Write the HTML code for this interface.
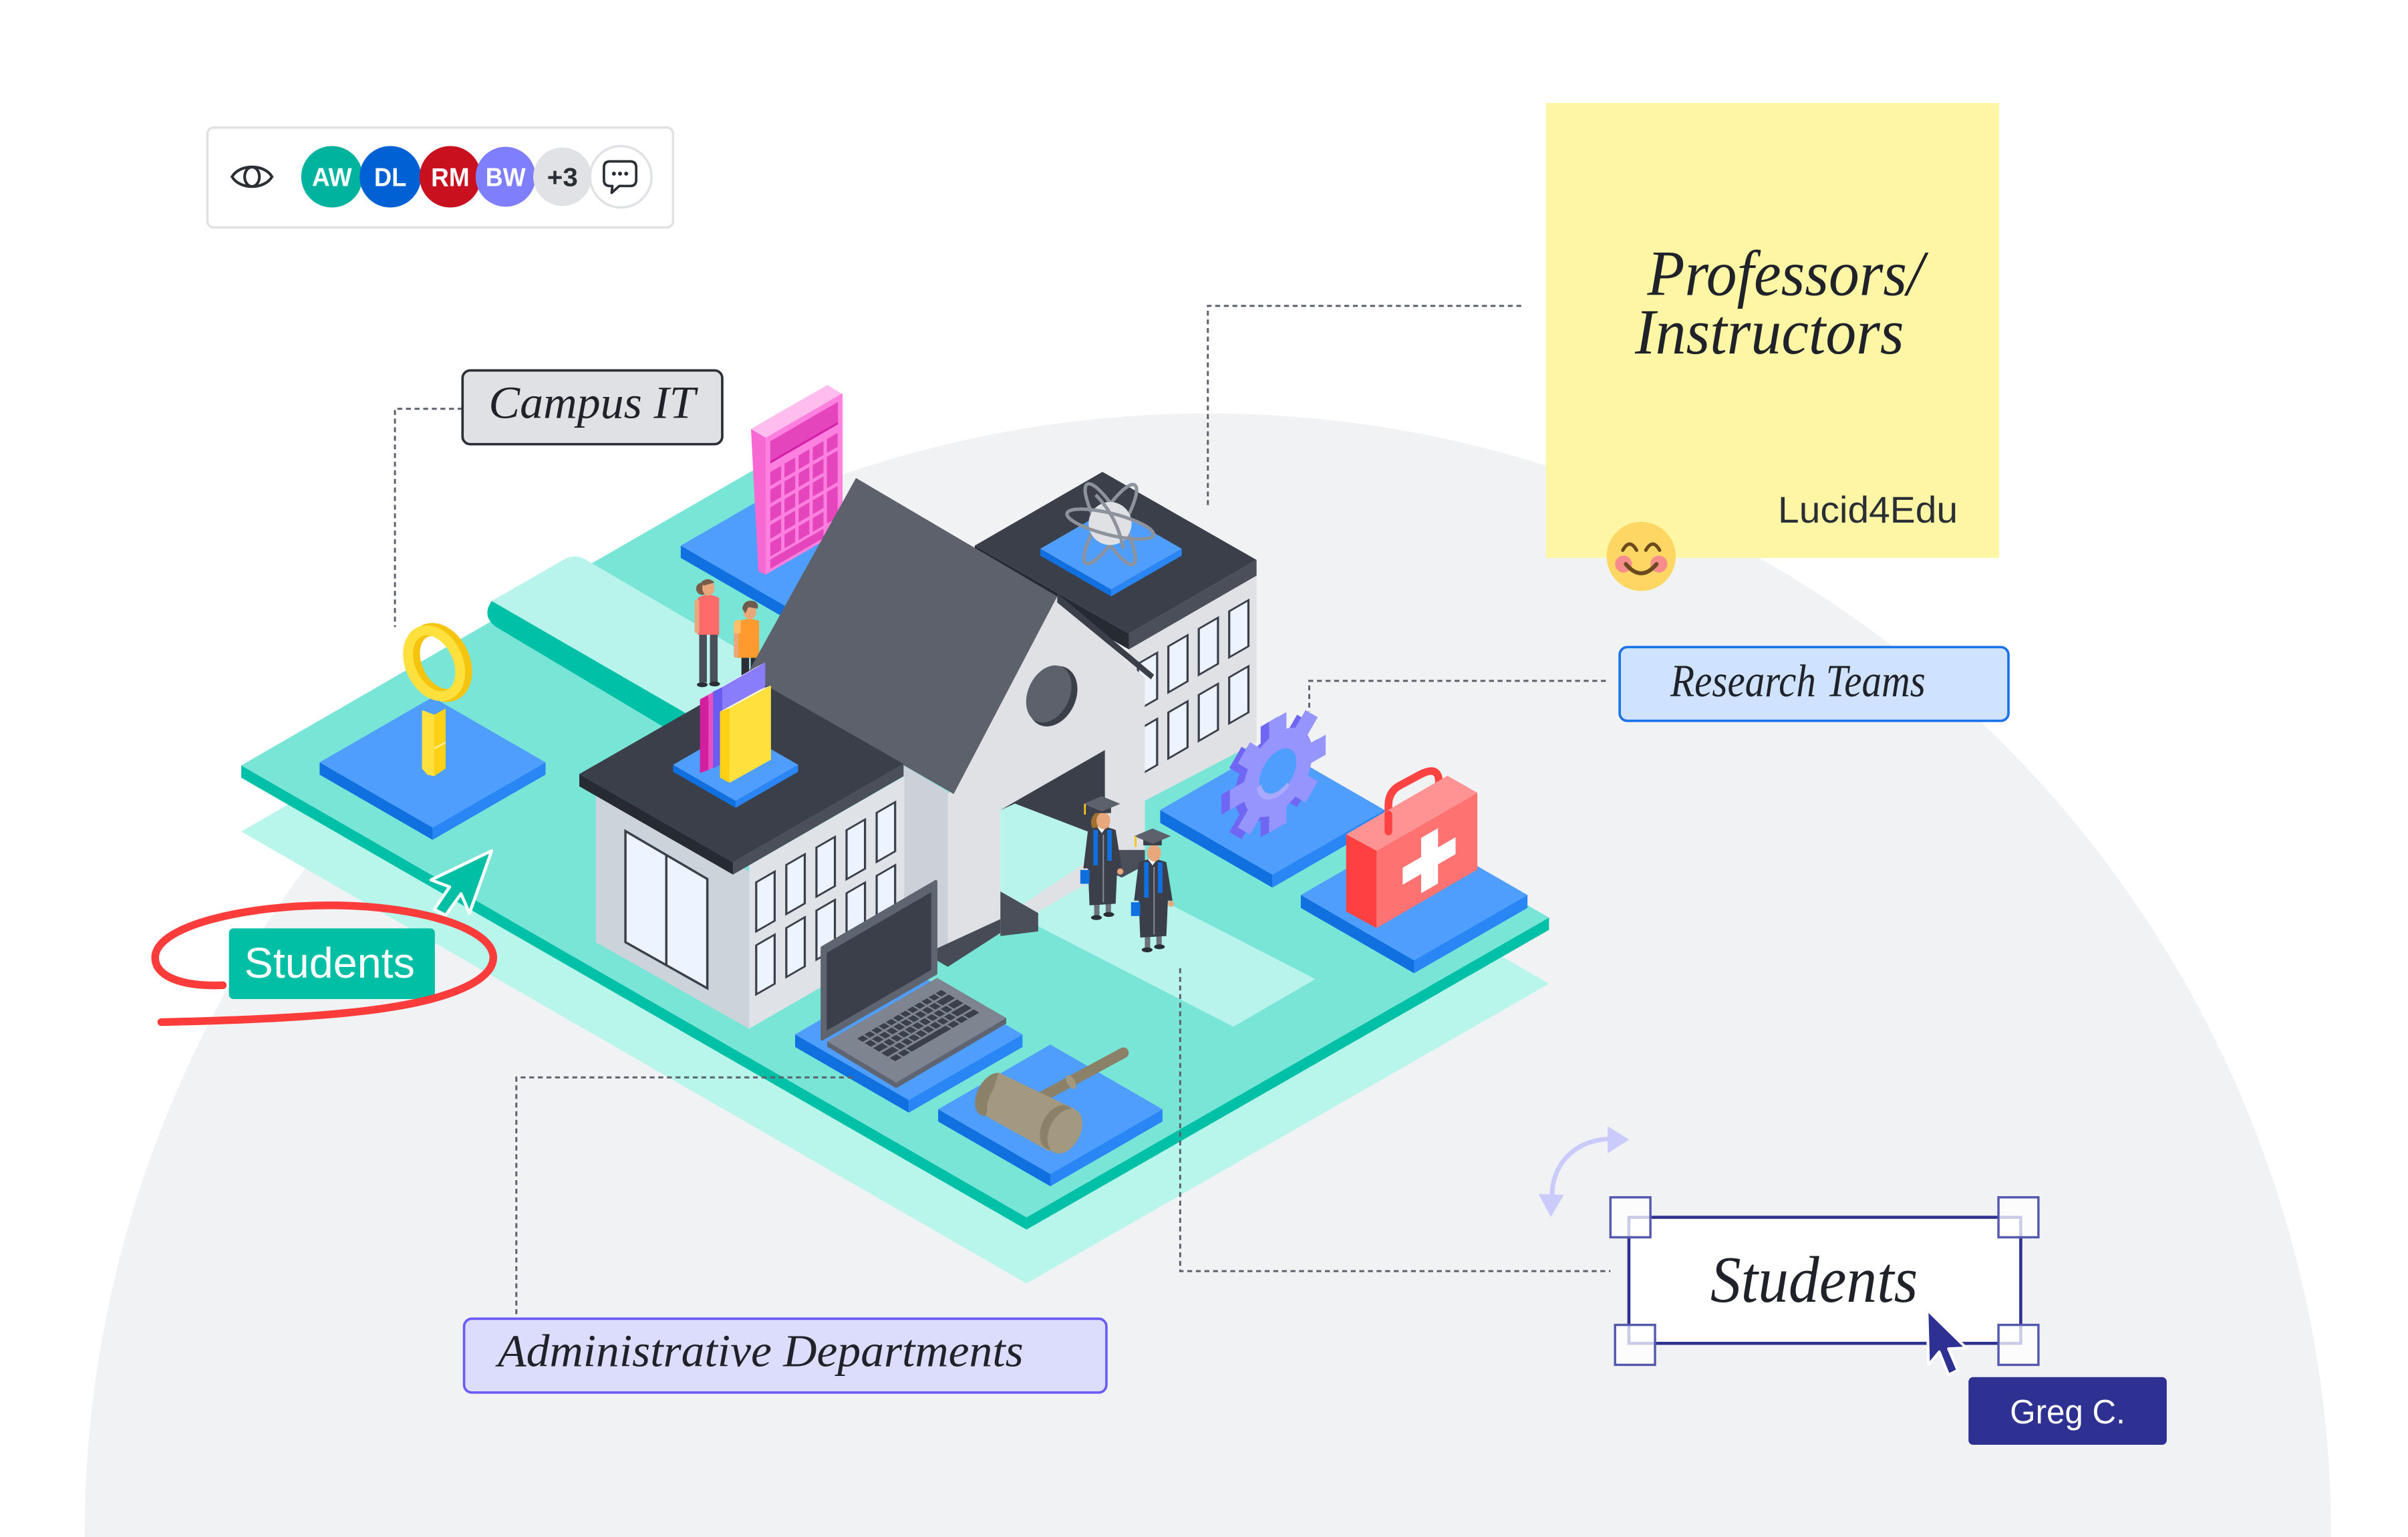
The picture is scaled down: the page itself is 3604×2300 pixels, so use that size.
<!DOCTYPE html>
<html>
<head>
<meta charset="utf-8">
<style>
html,body{margin:0;padding:0;background:#ffffff;overflow:hidden;width:3604px;height:2300px;}
svg{display:block;overflow:hidden;}
</style>
</head>
<body>
<svg xmlns="http://www.w3.org/2000/svg" width="3604" height="2300" viewBox="0 0 1567 1000" preserveAspectRatio="none" style="overflow:hidden">
<rect width="1567" height="1000" fill="#ffffff"/>
<path d="M55,1000 A731,731 0 0 1 1517,1000 Z" fill="#f1f2f4"/>

<!-- platform -->
<polygon points="497,345 1008,640 668,835 157,541" fill="#b8f5eb"/>
<polygon points="157,498 668,792 668,800 157,506" fill="#00c1a7"/>
<polygon points="668,792 1008,597 1008,605 668,800" fill="#00c1a7"/>
<polygon points="497,302 1008,597 668,792 157,498" fill="#78e5d7"/>

<!-- raised mint strip -->
<path d="M320,391 L460,472 L452,485 L323,408 Q313,401 320,391 Z" fill="#00c1a7"/>
<path d="M320,391 L367,364 Q374,360 381,364 L523.7,447.6 L470,477.6 Z" fill="#b8f4eb"/>

<!-- mint path to door -->
<polygon points="651,520 745,470 745,580 856,637 802.6,668 651,590" fill="#b8f4eb"/>

<!-- calculator pad -->
<polygon points="443,355 513,395.4 513,403.4 443,363" fill="#1170e0"/>
<polygon points="513,395.4 583,355 583,363 513,403.4" fill="#2a86f5"/>
<polygon points="443,355 513,314.6 583,355 513,395.4" fill="#4f9efd"/>
<!-- calculator -->
<polygon points="488.7,279 498.3,284.8 498.3,374 493.5,371.7" fill="#f868d3"/>
<polygon points="488.7,279 538.4,250.5 548.1,256.3 498.3,284.8" fill="#ffbdee"/>
<g transform="matrix(1,-0.58,0,1,498.3,284.8)">
<rect x="0" y="0" width="50" height="89" fill="#ff80df"/>
<rect x="3" y="4" width="44" height="14" fill="#e445bd"/>
<rect x="3" y="17" width="44" height="1.5" fill="#d41ea8"/>
<g fill="#e445bd">
<rect x="3" y="24" width="7" height="9"/><rect x="12.2" y="24" width="7" height="9"/><rect x="21.4" y="24" width="7" height="9"/><rect x="30.6" y="24" width="7" height="9"/><rect x="39.8" y="24" width="7" height="9"/>
<rect x="3" y="35.5" width="7" height="9"/><rect x="12.2" y="35.5" width="7" height="9"/><rect x="21.4" y="35.5" width="7" height="9"/><rect x="30.6" y="35.5" width="7" height="9"/><rect x="39.8" y="35.5" width="7" height="20.5"/>
<rect x="3" y="47" width="7" height="9"/><rect x="12.2" y="47" width="7" height="9"/><rect x="21.4" y="47" width="7" height="9"/><rect x="30.6" y="47" width="7" height="9"/>
<rect x="3" y="58.5" width="7" height="9"/><rect x="12.2" y="58.5" width="7" height="9"/><rect x="21.4" y="58.5" width="7" height="9"/><rect x="30.6" y="58.5" width="7" height="9"/><rect x="39.8" y="58.5" width="7" height="20.5"/>
<rect x="3" y="70" width="7" height="9"/><rect x="12.2" y="70" width="7" height="9"/><rect x="21.4" y="70" width="7" height="9"/><rect x="30.6" y="70" width="7" height="9"/>
<rect x="3" y="81" width="34.6" height="6"/>
</g>
</g>

<!-- people -->
<g>
<rect x="455" y="412" width="5" height="32" fill="#4a4f5a"/>
<rect x="462" y="411" width="5" height="33" fill="#4a4f5a"/>
<ellipse cx="457" cy="445.5" rx="3.5" ry="1.6" fill="#2a2e35"/>
<ellipse cx="465" cy="445" rx="3.5" ry="1.6" fill="#2a2e35"/>
<path d="M454,389 Q461,385 468,389 L468,413 L454,413 Z" fill="#ff6b6b"/>
<rect x="452" y="390" width="3" height="22" rx="1.5" fill="#e8a87c"/>
<circle cx="457" cy="383" r="4" fill="#7a5a48"/>
<ellipse cx="461" cy="382.5" rx="4" ry="5" fill="#e8a87c"/>
<path d="M456.5,378.5 Q461,375 465,379 L458,381 Z" fill="#7a5a48"/>
</g>
<g>
<rect x="482.5" y="427" width="5" height="13" fill="#2a2e35"/>
<rect x="488.5" y="426" width="5" height="13" fill="#2a2e35"/>
<path d="M479,405 Q487,401 494,404 L494,428 L480,428 Z" fill="#ff9a2e"/>
<rect x="477.5" y="406" width="3" height="22" rx="1.5" fill="#e8a87c"/>
<path d="M477.5,405 Q480,402 482,404 L482,412 L477.5,412 Z" fill="#ffc06a"/>
<ellipse cx="488" cy="398" rx="4.2" ry="5" fill="#e8a87c"/>
<path d="M483,396 Q484,390 490,391 Q494,392 493,396 L487,395 L485,399 Z" fill="#6e5a4e"/>
</g>

<!-- right building -->
<polygon points="734.6,422.5 817.7,374.5 817.7,483 745,521 734.6,527" fill="#dfe1e5"/>
<g fill="#eef4ff" stroke="#3a3f4a" stroke-width="1.4">
<rect x="0" y="0" width="12.5" height="30" transform="matrix(1,-0.577,0,1,740.5,431.9)"/>
<rect x="0" y="0" width="12.5" height="30" transform="matrix(1,-0.577,0,1,760.3,420.5)"/>
<rect x="0" y="0" width="12.5" height="30" transform="matrix(1,-0.577,0,1,780.1,409.1)"/>
<rect x="0" y="0" width="12.5" height="30" transform="matrix(1,-0.577,0,1,799.9,397.7)"/>
<rect x="0" y="0" width="12.5" height="30" transform="matrix(1,-0.577,0,1,740.5,474.9)"/>
<rect x="0" y="0" width="12.5" height="30" transform="matrix(1,-0.577,0,1,760.3,463.5)"/>
<rect x="0" y="0" width="12.5" height="30" transform="matrix(1,-0.577,0,1,780.1,452.1)"/>
<rect x="0" y="0" width="12.5" height="30" transform="matrix(1,-0.577,0,1,799.9,440.7)"/>
</g>
<polygon points="634.3,355 734.6,412.3 734.6,422.5 634.3,365" fill="#262a33"/>
<polygon points="734.6,412.3 817.7,364.3 817.7,374.5 734.6,422.5" fill="#4a4f5a"/>
<polygon points="634.3,355 717.4,307 817.7,364.3 734.6,412.3" fill="#3a3f4a"/>
<!-- atom pad -->
<polygon points="677,357 723,383.5 723,388 677,361.5" fill="#1170e0"/>
<polygon points="723,383.5 769,357 769,361.5 723,388" fill="#2a86f5"/>
<polygon points="677,357 723,330.5 769,357 723,383.5" fill="#4f9efd"/>
<!-- atom -->
<g fill="none" stroke="#8d939c" stroke-width="2.2">
<ellipse cx="722.5" cy="341" rx="30" ry="7.5" transform="rotate(60 722.5 341)"/>
<ellipse cx="722.5" cy="341" rx="30" ry="7.5" transform="rotate(-58 722.5 341)"/>
</g>
<circle cx="722.4" cy="340.6" r="14" fill="#dfe1e5"/>
<ellipse cx="722.5" cy="341" rx="29" ry="7" transform="rotate(14 722.5 341)" fill="none" stroke="#8d939c" stroke-width="2.2"/>
<path d="M713,322 Q727,336 731,357" fill="none" stroke="#8d939c" stroke-width="2.2"/>

<!-- house -->
<polygon points="588,497.9 616.8,515 616.8,620 588,604" fill="#ccd1d9"/>
<polygon points="616.8,516.6 688,388 745,441 745,553 616.8,627" fill="#dfe1e5"/>
<polygon points="609.8,617 651,598 651,607 616.8,629 609.8,625" fill="#474b55"/>
<polygon points="651,527 719,488 719,553 651,598" fill="#b8f4eb"/>
<polygon points="651,527 719,488 719,545.3 660.5,522.8" fill="#3a3f4a"/>
<polygon points="651,580 675.6,594 675.6,606 651,609" fill="#4a4f5a"/>
<polygon points="719,553 745,553 745,563 730,571 719,566" fill="#4a4f5a"/>
<ellipse cx="685" cy="453" rx="15" ry="20.5" transform="rotate(25 685 453)" fill="#3a3f4a"/>
<ellipse cx="682.5" cy="451.5" rx="13.5" ry="19.5" transform="rotate(25 682.5 451.5)" fill="#5c616c"/>
<polygon points="557,311 688,388 620.6,516.6 486,439" fill="#5c616c"/>
<polygon points="688,386 751,439 749,442 688,392" fill="#3a3f4a"/>

<!-- left building -->
<polygon points="387.7,510 487.5,567 487.5,669.3 387.7,613" fill="#cdd3db"/>
<polygon points="487.5,563 588.4,505 588.4,611 487.5,669.3" fill="#dfe2e7"/>
<polygon points="407,540.7 460.3,571.9 460.3,643 407,613" fill="#eef4ff" stroke="#3a3f4a" stroke-width="1.5"/>
<line x1="433.6" y1="556.3" x2="433.6" y2="628" stroke="#3a3f4a" stroke-width="1.5"/>
<g fill="#eef4ff" stroke="#3a3f4a" stroke-width="1.4">
<rect x="0" y="0" width="12" height="32" transform="matrix(1,-0.577,0,1,492.1,574)"/>
<rect x="0" y="0" width="12" height="32" transform="matrix(1,-0.577,0,1,511.7,562.7)"/>
<rect x="0" y="0" width="12" height="32" transform="matrix(1,-0.577,0,1,531.3,551.4)"/>
<rect x="0" y="0" width="12" height="32" transform="matrix(1,-0.577,0,1,550.9,540.1)"/>
<rect x="0" y="0" width="12" height="32" transform="matrix(1,-0.577,0,1,570.5,528.8)"/>
<rect x="0" y="0" width="12" height="32" transform="matrix(1,-0.577,0,1,492.1,615)"/>
<rect x="0" y="0" width="12" height="32" transform="matrix(1,-0.577,0,1,511.7,603.7)"/>
<rect x="0" y="0" width="12" height="32" transform="matrix(1,-0.577,0,1,531.3,592.4)"/>
<rect x="0" y="0" width="12" height="32" transform="matrix(1,-0.577,0,1,550.9,581.1)"/>
<rect x="0" y="0" width="12" height="32" transform="matrix(1,-0.577,0,1,570.5,569.8)"/>
</g>
<polygon points="377,503.6 477,561 477,569 377,511.6" fill="#262a33"/>
<polygon points="477,561 588,497 588,505 477,569" fill="#4a4f5a"/>
<polygon points="377,503.6 488,440 588,497 477,561" fill="#3a3f4a"/>
<!-- books pad -->
<polygon points="438,497.6 478.7,521.1 478.7,525.6 438,502.1" fill="#1170e0"/>
<polygon points="478.7,521.1 519.4,497.6 519.4,502.1 478.7,525.6" fill="#2a86f5"/>
<polygon points="438,497.6 478.7,474.1 519.4,497.6 478.7,521.1" fill="#4f9efd"/>
<!-- books -->
<polygon points="455.5,455 461,452 461,501 455.5,503" fill="#d41ea0"/>
<polygon points="461,452 489,436 489,486 461,501" fill="#e84fc0"/>
<polygon points="455.5,455 483,439.5 489,436 461,452" fill="#ffc2ec"/>
<polygon points="464,450 470,447 470,497 464,500" fill="#6a5cf0"/>
<polygon points="470,447 498,431 498,483 470,497" fill="#8a7dfb"/>
<polygon points="464,450 492,434 498,431 470,447" fill="#ecebff"/>
<polygon points="468.5,463 474.8,460.7 474.8,509.3 468.5,506" fill="#fcd116"/>
<polygon points="474.8,460.7 501.7,446 501.7,494.3 474.8,509.3" fill="#ffe03d"/>
<polygon points="468.5,463 495,448.5 501.7,446 474.8,460.7" fill="#fffbd0"/>

<!-- key pad -->
<polygon points="208,496 281.5,538.4 281.5,546.4 208,504" fill="#1170e0"/>
<polygon points="281.5,538.4 355,496 355,504 281.5,546.4" fill="#2a86f5"/>
<polygon points="208,496 281.5,453.6 355,496 281.5,538.4" fill="#4f9efd"/>
<!-- key -->
<polygon points="274.6,462 282.6,465 282.6,505 278,504 274.6,500" fill="#ffe03d"/>
<polygon points="282.6,465 290,461 290,500 282.6,505" fill="#fcd116"/>
<line x1="282.6" y1="487" x2="290" y2="483" stroke="#fff3a0" stroke-width="1"/>
<ellipse cx="286" cy="431" rx="15.5" ry="22.5" transform="rotate(-25 286 431)" fill="none" stroke="#f5c40f" stroke-width="8.5"/>
<ellipse cx="282.5" cy="431.5" rx="15.5" ry="22.5" transform="rotate(-25 282.5 431.5)" fill="none" stroke="#ffe03d" stroke-width="6.5"/>

<!-- gear pad -->
<polygon points="755,527 828,569.1 828,577.5 755,535.4" fill="#1170e0"/>
<polygon points="828,569.1 901,527 901,535.4 828,577.5" fill="#2a86f5"/>
<polygon points="755,527 828,484.9 901,527 828,569.1" fill="#4f9efd"/>
<!-- gear -->
<g transform="matrix(0.866,-0.5,0,1,826,505.5)" fill="#6f66f4">
<circle cx="0" cy="0" r="26"/>
<rect x="-6.5" y="-36" width="13" height="14"/>
<rect x="-6.5" y="-36" width="13" height="14" transform="rotate(45)"/>
<rect x="-6.5" y="-36" width="13" height="14" transform="rotate(90)"/>
<rect x="-6.5" y="-36" width="13" height="14" transform="rotate(135)"/>
<rect x="-6.5" y="-36" width="13" height="14" transform="rotate(180)"/>
<rect x="-6.5" y="-36" width="13" height="14" transform="rotate(225)"/>
<rect x="-6.5" y="-36" width="13" height="14" transform="rotate(270)"/>
<rect x="-6.5" y="-36" width="13" height="14" transform="rotate(315)"/>
</g>
<g transform="matrix(0.866,-0.5,0,1,831.5,502.5)">
<g fill="#9595fd">
<circle cx="0" cy="0" r="26"/>
<rect x="-6.5" y="-36" width="13" height="14"/>
<rect x="-6.5" y="-36" width="13" height="14" transform="rotate(45)"/>
<rect x="-6.5" y="-36" width="13" height="14" transform="rotate(90)"/>
<rect x="-6.5" y="-36" width="13" height="14" transform="rotate(135)"/>
<rect x="-6.5" y="-36" width="13" height="14" transform="rotate(180)"/>
<rect x="-6.5" y="-36" width="13" height="14" transform="rotate(225)"/>
<rect x="-6.5" y="-36" width="13" height="14" transform="rotate(270)"/>
<rect x="-6.5" y="-36" width="13" height="14" transform="rotate(315)"/>
</g>
<circle cx="0" cy="0" r="14" fill="#4f9efd"/>
<path d="M-14,2 A14,14 0 0 0 8,11.5" fill="none" stroke="#a9a9ff" stroke-width="3.5"/>
</g>

<!-- medkit pad -->
<polygon points="846.5,582.3 920.2,624.8 920.2,633.2 846.5,590.7" fill="#1170e0"/>
<polygon points="920.2,624.8 994,582.3 994,590.7 920.2,633.2" fill="#2a86f5"/>
<polygon points="846.5,582.3 920.2,539.8 994,582.3 920.2,624.8" fill="#4f9efd"/>
<!-- medkit -->
<path d="M903.5,540 L903.5,524 Q903.5,515 911,511 L925,503.5 Q936.4,498 936.4,509 L936.4,521" fill="none" stroke="#ff4242" stroke-width="5" stroke-linecap="round"/>
<polygon points="876,542.8 895.8,553.5 895.8,603.8 876,593" fill="#ff4040"/>
<polygon points="895.8,553.5 961.4,515.8 961.4,565.7 895.8,603.8" fill="#ff7272"/>
<polygon points="876,542.8 941.9,504.7 961.4,515.8 895.8,553.5" fill="#ff9393"/>
<path d="M903.5,541 L903.5,530" stroke="#ff4242" stroke-width="5" stroke-linecap="round"/>
<g transform="matrix(1,-0.577,0,1,895.8,553.5)" fill="#ffffff">
<rect x="29" y="8.4" width="11" height="36"/>
<rect x="17" y="20.9" width="34.4" height="11"/>
</g>

<!-- graduates -->
<g transform="translate(717,523)">
<rect x="-5" y="64" width="3.5" height="9" fill="#6b7079"/>
<rect x="2.5" y="62" width="3.5" height="9" fill="#6b7079"/>
<ellipse cx="-3.5" cy="74" rx="3.5" ry="1.6" fill="#2a2e35"/>
<ellipse cx="4.5" cy="72" rx="3.5" ry="1.6" fill="#2a2e35"/>
<ellipse cx="-1" cy="12" rx="6" ry="7" fill="#a0702f"/>
<path d="M-9,17 Q0,13 9,17 L13,42 L10,42 L9,65 L-8,66 L-9,42 L-12,42 Z" fill="#3a3f4a"/>
<line x1="-4" y1="17" x2="-4" y2="40" stroke="#1170e0" stroke-width="3"/>
<line x1="5" y1="17" x2="5" y2="37" stroke="#1170e0" stroke-width="3"/>
<line x1="1" y1="20" x2="1" y2="64" stroke="#8a909a" stroke-width="0.8"/>
<polygon points="-3,15 3,15 0,19" fill="#ffffff"/>
<ellipse cx="1" cy="11" rx="4.5" ry="5.5" fill="#e8a87c"/>
<rect x="-6" y="1" width="12" height="5" fill="#3a3f4a"/>
<polygon points="-12,0 0,-5 12,0 0,5" fill="#5c616c"/>
<line x1="-11" y1="0" x2="-11" y2="7" stroke="#f5c518" stroke-width="1.2"/>
<rect x="-14" y="43" width="6" height="9" fill="#1170e0"/>
<circle cx="12" cy="44" r="2" fill="#e8a87c"/>
</g>
<g transform="translate(750,544)">
<rect x="-5" y="64" width="3.5" height="9" fill="#6b7079"/>
<rect x="2.5" y="62" width="3.5" height="9" fill="#6b7079"/>
<ellipse cx="-3.5" cy="74" rx="3.5" ry="1.6" fill="#2a2e35"/>
<ellipse cx="4.5" cy="72" rx="3.5" ry="1.6" fill="#2a2e35"/>
<path d="M-9,17 Q0,13 9,17 L13,42 L10,42 L9,65 L-8,66 L-9,42 L-12,42 Z" fill="#3a3f4a"/>
<line x1="-4" y1="17" x2="-4" y2="40" stroke="#1170e0" stroke-width="3"/>
<line x1="5" y1="17" x2="5" y2="37" stroke="#1170e0" stroke-width="3"/>
<line x1="1" y1="20" x2="1" y2="64" stroke="#8a909a" stroke-width="0.8"/>
<polygon points="-3,15 3,15 0,19" fill="#ffffff"/>
<ellipse cx="1" cy="11" rx="4.5" ry="5.5" fill="#e8a87c"/>
<rect x="-6" y="1" width="12" height="5" fill="#3a3f4a"/>
<polygon points="-12,0 0,-5 12,0 0,5" fill="#5c616c"/>
<line x1="-11" y1="0" x2="-11" y2="7" stroke="#f5c518" stroke-width="1.2"/>
<rect x="-14" y="43" width="6" height="9" fill="#1170e0"/>
<circle cx="12" cy="44" r="2" fill="#e8a87c"/>
</g>

<!-- laptop pad -->
<polygon points="517.4,673 591.4,715.7 591.4,723.9 517.4,681.2" fill="#1170e0"/>
<polygon points="591.4,715.7 665.4,673 665.4,681.2 591.4,723.9" fill="#2a86f5"/>
<polygon points="517.4,673 591.4,630.3 665.4,673 591.4,715.7" fill="#4f9efd"/>
<!-- laptop -->
<polygon points="538.3,677.5 583.2,704.3 583.2,708 538.3,681" fill="#5f6570"/>
<polygon points="583.2,704.3 654.8,662.3 654.8,666 583.2,708" fill="#5f6570"/>
<polygon points="538.3,677.5 609.8,636.2 654.8,662.3 583.2,704.3" fill="#7e8591"/>
<g transform="matrix(0.715,-0.413,0.449,0.268,538.3,677.5)" fill="#3a3f4a">
<rect x="16" y="18" width="5" height="8"/><rect x="22.5" y="18" width="5" height="8"/><rect x="29" y="18" width="5" height="8"/><rect x="35.5" y="18" width="5" height="8"/><rect x="42" y="18" width="5" height="8"/><rect x="48.5" y="18" width="5" height="8"/><rect x="55" y="18" width="5" height="8"/><rect x="61.5" y="18" width="5" height="8"/><rect x="68" y="18" width="5" height="8"/><rect x="74.5" y="18" width="5" height="8"/><rect x="81" y="18" width="5" height="8"/><rect x="87.5" y="18" width="5" height="8"/>
<rect x="16" y="29" width="5" height="9"/><rect x="22.5" y="29" width="5" height="9"/><rect x="29" y="29" width="5" height="9"/><rect x="35.5" y="29" width="5" height="9"/><rect x="42" y="29" width="5" height="9"/><rect x="48.5" y="29" width="5" height="9"/><rect x="55" y="29" width="5" height="9"/><rect x="61.5" y="29" width="5" height="9"/><rect x="68" y="29" width="5" height="9"/><rect x="74.5" y="29" width="5" height="9"/><rect x="81" y="29" width="11.5" height="9"/>
<rect x="16" y="41" width="8" height="9"/><rect x="25.5" y="41" width="5" height="9"/><rect x="32" y="41" width="5" height="9"/><rect x="38.5" y="41" width="5" height="9"/><rect x="45" y="41" width="5" height="9"/><rect x="51.5" y="41" width="5" height="9"/><rect x="58" y="41" width="5" height="9"/><rect x="64.5" y="41" width="5" height="9"/><rect x="71" y="41" width="5" height="9"/><rect x="77.5" y="41" width="5" height="9"/><rect x="84" y="41" width="8.5" height="9"/>
<rect x="16" y="53" width="10" height="9"/><rect x="27.5" y="53" width="5" height="9"/><rect x="34" y="53" width="5" height="9"/><rect x="40.5" y="53" width="5" height="9"/><rect x="47" y="53" width="5" height="9"/><rect x="53.5" y="53" width="5" height="9"/><rect x="60" y="53" width="5" height="9"/><rect x="66.5" y="53" width="5" height="9"/><rect x="73" y="53" width="5" height="9"/><rect x="79.5" y="53" width="13" height="9"/>
<rect x="16" y="65" width="6" height="8"/><rect x="23.5" y="65" width="6" height="8"/><rect x="31" y="65" width="36" height="8"/><rect x="68.5" y="65" width="6" height="8"/><rect x="76" y="65" width="6" height="8"/><rect x="83.5" y="65" width="9" height="8"/>
</g>
<polygon points="535,616.6 609,573.5 609,633.3 535,676" fill="#5f6570" stroke="#5f6570" stroke-width="2" stroke-linejoin="round"/>
<polygon points="538,620 606,580.5 606,631 538,670.5" fill="#3a3f4a"/>

<!-- gavel pad -->
<polygon points="610.5,721.7 683.5,763.8 683.5,771.8 610.5,729.7" fill="#1170e0"/>
<polygon points="683.5,763.8 756.5,721.7 756.5,729.7 683.5,771.8" fill="#2a86f5"/>
<polygon points="610.5,721.7 683.5,679.6 756.5,721.7 683.5,763.8" fill="#4f9efd"/>
<!-- gavel -->
<line x1="670" y1="718" x2="731" y2="685" stroke="#8b8068" stroke-width="7" stroke-linecap="round"/>
<ellipse cx="697" cy="704" rx="2.5" ry="5" transform="rotate(-30 697 704)" fill="#a39980"/>
<ellipse cx="645" cy="712" rx="9" ry="15" transform="rotate(27 645 712)" fill="#8b8068"/>
<polygon points="649.8,697.8 699.7,721.7 683,749.2 641.4,726" fill="#a39980"/>
<ellipse cx="652" cy="715" rx="8" ry="14.5" transform="rotate(27 652 715)" fill="#a39980"/>
<ellipse cx="688" cy="733.5" rx="10" ry="15.5" transform="rotate(27 688 733.5)" fill="#8b8068"/>
<ellipse cx="693" cy="736" rx="10" ry="15.5" transform="rotate(27 693 736)" fill="#a39980"/>

<!-- connectors -->
<g fill="none" stroke="#5c616c" stroke-width="1.3" stroke-dasharray="3.2 2.4">
<path d="M301,266 H257 V408"/>
<path d="M990,199 H786 V330"/>
<path d="M1045,443 H852 V463"/>
<path d="M336,855 V701 H555"/>
<path d="M768,630 V827 H1048"/>
</g>

<!-- toolbar -->
<rect x="135" y="83" width="303" height="65" rx="4" fill="#ffffff" stroke="#dfe1e5" stroke-width="1.5"/>
<path d="M151,115 C156,106.5 172,106.5 177,115 C172,123.5 156,123.5 151,115 Z" fill="none" stroke="#2a2e35" stroke-width="1.8"/>
<ellipse cx="164" cy="115" rx="4.8" ry="6.3" fill="none" stroke="#2a2e35" stroke-width="1.8"/>
<circle cx="216" cy="115" r="20" fill="#00b39e"/>
<circle cx="254" cy="115" r="20" fill="#0061d5"/>
<circle cx="293" cy="115" r="20" fill="#c8101e"/>
<circle cx="329" cy="115" r="19.5" fill="#7f7ffe"/>
<circle cx="366" cy="115" r="19" fill="#e0e2e6"/>
<circle cx="404" cy="115" r="20" fill="#ffffff" stroke="#dfe1e5" stroke-width="1.5"/>
<g font-family="'Liberation Sans',sans-serif" font-weight="bold" font-size="17" text-anchor="middle">
<text x="216" y="121" fill="#ffffff" textLength="26" lengthAdjust="spacingAndGlyphs">AW</text>
<text x="254" y="121" fill="#ffffff" textLength="21" lengthAdjust="spacingAndGlyphs">DL</text>
<text x="293" y="121" fill="#ffffff" textLength="25" lengthAdjust="spacingAndGlyphs">RM</text>
<text x="329" y="121" fill="#ffffff" textLength="26" lengthAdjust="spacingAndGlyphs">BW</text>
<text x="366" y="121" fill="#2a2e35" textLength="20" lengthAdjust="spacingAndGlyphs">+3</text>
</g>
<path d="M397,105 H410 Q414,105 414,109 V117 Q414,121 410,121 H403 L398,125.5 L398.5,121 H397 Q393,121 393,117 V109 Q393,105 397,105 Z" fill="#ffffff" stroke="#2a2e35" stroke-width="1.6" stroke-linejoin="round"/>
<circle cx="399.5" cy="113" r="1.3" fill="#2a2e35"/>
<circle cx="403.5" cy="113" r="1.3" fill="#2a2e35"/>
<circle cx="407.5" cy="113" r="1.3" fill="#2a2e35"/>

<!-- Campus IT -->
<rect x="301" y="241" width="169" height="48" rx="5" fill="#dfe1e5" stroke="#2a2e35" stroke-width="1.6"/>
<text x="318" y="272" font-family="'Liberation Serif',serif" font-style="italic" font-size="30" fill="#1f2329" textLength="134.5" lengthAdjust="spacingAndGlyphs">Campus IT</text>

<!-- sticky -->
<rect x="1006" y="67" width="295" height="296" fill="#fff6a5"/>
<text x="1072" y="192" font-family="'Liberation Serif',serif" font-style="italic" font-size="42" fill="#1f2329" textLength="180" lengthAdjust="spacingAndGlyphs">Professors/</text>
<text x="1064" y="230" font-family="'Liberation Serif',serif" font-style="italic" font-size="42" fill="#1f2329" textLength="175" lengthAdjust="spacingAndGlyphs">Instructors</text>
<text x="1157" y="340" font-family="'Liberation Sans',sans-serif" font-size="24" fill="#2a2e35" textLength="117" lengthAdjust="spacingAndGlyphs">Lucid4Edu</text>
<circle cx="1068" cy="362" r="22.5" fill="#fdd663"/>
<circle cx="1056.5" cy="367" r="5.5" fill="#f78c8c"/>
<circle cx="1079.5" cy="367" r="5.5" fill="#f78c8c"/>
<path d="M1056,358 Q1060.5,350 1065,358 M1071,358 Q1075.5,350 1080,358" fill="none" stroke="#6b4a1e" stroke-width="2.2" stroke-linecap="round"/>
<path d="M1058,367 Q1068,379 1078,367" fill="none" stroke="#6b4a1e" stroke-width="2.6" stroke-linecap="round"/>

<!-- Research Teams -->
<rect x="1054" y="421" width="253" height="48" rx="5" fill="#cfe2ff" stroke="#1a73e8" stroke-width="1.6"/>
<text x="1087" y="453" font-family="'Liberation Serif',serif" font-style="italic" font-size="30" fill="#1f2329" textLength="166" lengthAdjust="spacingAndGlyphs">Research Teams</text>

<!-- Administrative Departments -->
<rect x="302" y="858" width="418" height="48" rx="5" fill="#dcdcfd" stroke="#6b5cf6" stroke-width="1.6"/>
<text x="324" y="889" font-family="'Liberation Serif',serif" font-style="italic" font-size="30" fill="#1f2329" textLength="342" lengthAdjust="spacingAndGlyphs">Administrative Departments</text>

<!-- Students green label + scribble -->
<rect x="149" y="604" width="134" height="46" rx="3" fill="#00bfa5"/>
<text x="159" y="636" font-family="'Liberation Sans',sans-serif" font-size="28" fill="#ffffff" textLength="111" lengthAdjust="spacingAndGlyphs">Students</text>
<path d="M145,641 C120,642 100,636 101,622 C103,602 160,589 215,589 C270,589 319,603 321,622 C322,640 285,651 250,656 C210,662 150,664 105,665" fill="none" stroke="#fc3b3b" stroke-width="5" stroke-linecap="round"/>
<polygon points="320,553.5 280.5,572.5 292.6,577 282.6,591.7 290,595.4 300,581.5 305.5,594.2" fill="#00bfa5" stroke="#ffffff" stroke-width="2" stroke-linejoin="round"/>

<!-- rotate arrow -->
<path d="M1010,778 C1010,758 1024,742 1047,741" fill="none" stroke="#cbcbfb" stroke-width="3"/>
<polygon points="1009.2,791.8 1001.2,776.8 1017.7,777.4" fill="#cbcbfb"/>
<polygon points="1060.2,741.4 1046.2,732.8 1046.2,750.3" fill="#cbcbfb"/>

<!-- Students selection box -->
<rect x="1060" y="792" width="255" height="82" fill="#ffffff" stroke="#2e3192" stroke-width="2"/>
<text x="1113" y="847" font-family="'Liberation Serif',serif" font-style="italic" font-size="43" fill="#1f2329" textLength="135" lengthAdjust="spacingAndGlyphs">Students</text>
<g fill="#ffffff" fill-opacity="0.75" stroke="#5559ad" stroke-width="1.5">
<rect x="1048" y="779" width="26" height="26"/>
<rect x="1300.5" y="779" width="26" height="26"/>
<rect x="1051" y="862" width="26" height="26"/>
<rect x="1300.5" y="862" width="26" height="26"/>
</g>
<polygon points="1254,852 1255,888 1262,879.5 1268,894.5 1274,891.5 1268,877.5 1279.5,877" fill="#2e3192" stroke="#ffffff" stroke-width="1.8" stroke-linejoin="round"/>
<rect x="1281" y="896" width="129" height="44" rx="3" fill="#2e3192"/>
<text x="1308" y="926" font-family="'Liberation Sans',sans-serif" font-size="22" fill="#ffffff" textLength="75" lengthAdjust="spacingAndGlyphs">Greg C.</text>
</svg>
</body>
</html>
